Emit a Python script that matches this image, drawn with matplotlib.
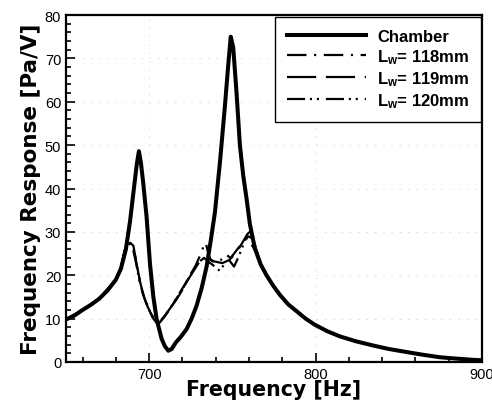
import matplotlib
matplotlib.use('Agg')
import matplotlib.pyplot as plt
from matplotlib.ticker import MultipleLocator

# frequency response curves (Hz, Pa/V)
chamber_f = [650, 655, 660, 665, 670, 675, 680, 683, 686, 688.5, 690.5, 692.5, 693.8,
             695, 696.4, 698.4, 700.5, 702.5, 704.5, 707.5, 709.5, 711.5, 713.5, 716,
             719, 722.5, 725.5, 728.5, 731.5, 734.5, 737, 739.5, 742.5, 745.5, 747.5,
             749, 750.5, 752.5, 754.5, 756.5, 758.5, 760.5, 763.5, 767, 770.5, 774.5,
             778.5, 783.5, 788.6, 794, 799.5, 807, 814.6, 824, 834.6, 844, 854.6, 864,
             874.6, 884, 894.6, 900]
chamber_v = [9.8, 10.7, 12.0, 13.2, 14.6, 16.5, 19.0, 21.5, 26.0, 32.5, 39.0, 45.5, 48.6,
             46.0, 41.3, 33.6, 22.5, 15.0, 9.8, 5.3, 3.6, 2.6, 3.0, 4.5,
             5.8, 7.6, 10.0, 13.0, 17.0, 22.0, 28.0, 34.5, 46.0, 59.0, 68.5,
             75.0, 72.5, 62.0, 50.0, 43.0, 37.7, 31.8, 26.2, 22.5, 20.0, 17.6,
             15.5, 13.3, 11.7, 10.0, 8.6, 7.1, 5.9, 4.8, 3.8, 3.0, 2.3, 1.7,
             1.1, 0.8, 0.5, 0.4]

tail_f = [770.5, 774.5, 778.5, 783.5, 788.6, 794, 799.5, 807, 814.6, 824, 834.6, 844,
          854.6, 864, 874.6, 884, 894.6, 900]
tail_v = [20.0, 17.6, 15.5, 13.3, 11.7, 10.0, 8.6, 7.1, 5.9, 4.8, 3.8, 3.0,
          2.3, 1.7, 1.1, 0.8, 0.5, 0.4]

l118_f = [650, 660, 670, 680, 683, 685.5, 687.2, 688.5, 690.5, 692.5, 694.5, 696.5,
          698.5, 700.5, 702.5, 704.5, 706.5, 709, 712.5, 716, 719, 722, 725, 728,
          730.5, 732.5, 734, 735.5, 737, 740, 743, 746, 749, 752, 755, 758, 760,
          762, 764, 767] + tail_f
l118_v = [9.8, 12.0, 14.6, 19.0, 21.8, 26.0, 28.3, 27.5, 26.8, 22.5, 18.5, 15.5,
          13.5, 11.5, 10.0, 9.0, 9.2, 10.5, 12.3, 14.2, 16.0, 18.2, 20.3, 22.3,
          24.5, 26.5, 27.5, 25.0, 23.5, 22.8, 23.5, 24.8, 24.0, 25.5, 27.0, 28.3, 28.0,
          26.8, 25.5, 22.5] + tail_v

l119_f = [650, 660, 670, 680, 683, 685.5, 687, 689, 691, 693, 695, 697, 699, 701,
          703, 705, 707, 710, 713, 717, 721, 725, 730, 735, 739, 744, 748, 752,
          756, 759, 761, 763, 765.5, 767] + tail_f
l119_v = [9.8, 12.0, 14.6, 19.0, 21.8, 26.0, 27.5, 27.0, 25.5, 21.5, 17.5, 14.8,
          12.8, 11.2, 10.0, 9.3, 9.6, 11.0, 12.6, 15.0, 17.5, 20.0, 23.0, 24.0, 23.2,
          22.8, 23.5, 25.0, 27.5, 29.5, 30.2, 27.5, 24.5, 22.5] + tail_v

l120_f = [650, 660, 670, 680, 683, 685.5, 687.5, 690, 692, 694, 696, 698, 700, 702,
          704, 706, 709, 712, 716, 720, 724, 729, 733, 736, 739.5, 742.5, 745, 748,
          751, 754, 757, 759.5, 762, 764, 767] + tail_f
l120_v = [9.8, 12.0, 14.6, 19.0, 21.8, 26.0, 28.0, 26.5, 23.0, 19.0, 16.0, 13.8,
          12.0, 10.3, 8.8, 9.0, 10.3, 12.0, 14.5, 17.0, 19.5, 22.8, 24.0, 23.0,
          22.0, 21.0, 22.5, 23.5, 22.0, 24.5, 27.5, 29.0, 28.5, 26.5, 22.5] + tail_v

labels = ['Chamber', r'$\mathbf{L_{w}}$= 118mm', r'$\mathbf{L_{w}}$= 119mm',
          r'$\mathbf{L_{w}}$= 120mm']

plt.rcParams['font.family'] = ['Liberation Sans', 'DejaVu Sans']
plt.rcParams['mathtext.fontset'] = 'custom'
plt.rcParams['mathtext.rm'] = 'Liberation Sans'
plt.rcParams['mathtext.bf'] = 'Liberation Sans:bold'
plt.rcParams['lines.scale_dashes'] = False

fig = plt.figure(figsize=(4.92, 4.02), dpi=100)
ax = fig.add_axes([66 / 492, 39 / 402, 416 / 492, 347 / 402])

ax.plot(l118_f, l118_v, color='black', lw=1.6, dashes=(14, 5.5, 1.5, 5.5), label=labels[1])
ax.plot(l119_f, l119_v, color='black', lw=1.6, dashes=(21, 7), label=labels[2])
ax.plot(l120_f, l120_v, color='black', lw=1.6,
        dashes=(13, 3.5, 1.5, 3.5, 1.5, 5), label=labels[3])
ax.plot(chamber_f, chamber_v, color='black', lw=2.9, label=labels[0])

ax.set_xlim(650, 900)
ax.set_ylim(0, 80)
ax.xaxis.set_major_locator(MultipleLocator(100))
ax.xaxis.set_minor_locator(MultipleLocator(20))
ax.yaxis.set_major_locator(MultipleLocator(10))
ax.yaxis.set_minor_locator(MultipleLocator(2))
ax.tick_params(which='both', direction='in', width=1.2, labelsize=10.5)
ax.tick_params(which='major', length=6.5)
ax.tick_params(which='minor', length=3.5)
for s in ax.spines.values():
    s.set_linewidth(1.6)
ax.grid(True, which='major', color='0.8', lw=0.5, dashes=(1, 5))

ax.set_xlabel('Frequency [Hz]', fontsize=14.8, fontweight='bold',
              family='DejaVu Sans', labelpad=-1.5)
ax.set_ylabel('Frequency Response [Pa/V]', fontsize=15.5, fontweight='bold',
              family='DejaVu Sans', labelpad=3)

h, l = ax.get_legend_handles_labels()
order = [3, 0, 1, 2]
leg = ax.legend([h[i] for i in order], [l[i] for i in order], loc='upper right',
                bbox_to_anchor=(0.998, 0.994), borderaxespad=0,
                prop={'weight': 'bold', 'size': 12},
                handlelength=4.75, handletextpad=0.66, labelspacing=0.2,
                borderpad=0.7, fancybox=False, framealpha=1)
leg.get_frame().set_edgecolor('black')
leg.get_frame().set_linewidth(1.0)

fig.savefig('out.png', dpi=100)
